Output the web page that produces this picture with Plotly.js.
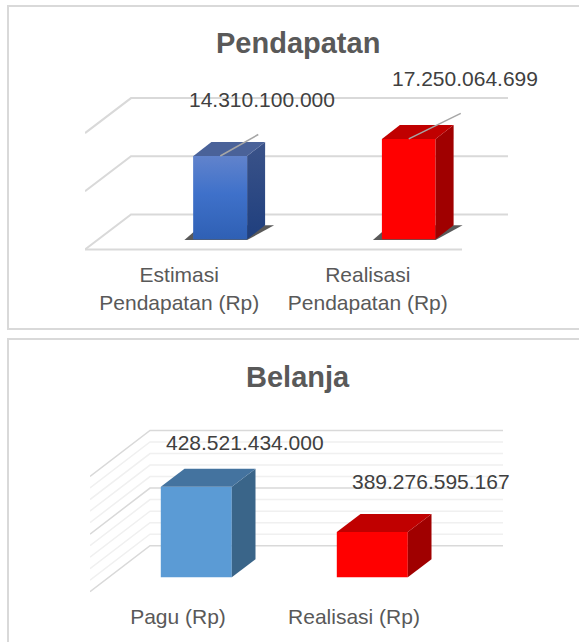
<!DOCTYPE html>
<html>
<head>
<meta charset="utf-8">
<script src="https://cdn.plot.ly/plotly-3.0.1.min.js"></script>
<style>html,body{margin:0;padding:0;background:#fff}#chart{width:579px;height:642px}</style>
</head>
<body>
<div id="chart"></div>
<script>
// ---- data ----
const categoriesPendapatan = ['Estimasi<br>Pendapatan (Rp)', 'Realisasi<br>Pendapatan (Rp)'];
const valuesPendapatan = [14310100000, 17250064699];
const labelsPendapatan = ['14.310.100.000', '17.250.064.699'];
const gridPendapatan = [0, 10000000000, 20000000000];

const categoriesBelanja = ['Pagu (Rp)', 'Realisasi (Rp)'];
const valuesBelanja = [428521434000, 389276595167];
const labelsBelanja = ['428.521.434.000', '389.276.595.167'];
const gridMajorBelanja = [350e9, 400e9, 450e9];
const gridMinorBelanja = [360e9, 370e9, 380e9, 390e9, 410e9, 420e9, 430e9, 440e9];

// ---- styles ----
const W = 579, H = 642;
const RED = {front: '#ff0000', side: '#a00000', top: '#c00000'};
const panels = [
  {
    suffix: '', title: 'Pendapatan', titleY: 43,
    categories: categoriesPendapatan, values: valuesPendapatan, labels: labelsPendapatan,
    gridMajor: gridPendapatan, gridMinor: [],
    base: 0, pxPerUnit: 5.82e-9, basePx: 239.3,
    leftPx: 85, rightPx: 508, bottomPx: 252, topPx: 60, catPx: 188.5,
    barShiftPx: 41, barWidthPx: 53.7, depthX: 18, depthY: 14,
    backX: 46, backY: 24.8, frontY: -10.2,
    labelShift: [[41.6, 57], [55.8, 60]],
    leader: [[38, 21.5], [52, 25.5]],
    floorLine: true, shadow: true, ticklen: 4,
    colors: [
      {front: '#3d6fc7', side: '#2a4a86', top: '#4a6299',
       frontGrad: [[0, '#2f60b4'], [0.55, '#3f71ca'], [1, '#6183cc']],
       sideGrad: [[0, '#1f3f7e'], [1, '#3b5389']]},
      RED]
  },
  {
    suffix: '2', title: 'Belanja', titleY: 377,
    categories: categoriesBelanja, values: valuesBelanja, labels: labelsBelanja,
    gridMajor: gridMajorBelanja, gridMinor: gridMinorBelanja,
    base: 350e9, pxPerUnit: 1.152e-9, basePx: 577.3,
    leftPx: 90, rightPx: 503, bottomPx: 594, topPx: 420, catPx: 176,
    barShiftPx: 18.3, barWidthPx: 71, depthX: 23.7, depthY: 18,
    backX: 60, backY: 31.6, frontY: -14.4,
    labelShift: [[49, 44.6], [59, 51]],
    leader: null,
    floorLine: false, shadow: false, ticklen: 4,
    colors: [{front: '#5b9bd5', side: '#3a6589', top: '#44739f'}, RED]
  }
];

const traces = [], annotations = [], shapes = [], layout = {};

function panelFrame(y0, y1) {
  shapes.push({type: 'rect', xref: 'paper', yref: 'paper', layer: 'below',
    x0: 8 / W, x1: 1.02, y0: 1 - y0 / H, y1: 1 - y1 / H,
    line: {color: '#d9d9d9', width: 2}, fillcolor: 'rgba(0,0,0,0)'});
}
panelFrame(6, 329);
panelFrame(339, 660);

panels.forEach(p => {
  const xa = 'x' + p.suffix, ya = 'y' + p.suffix;
  const xName = 'xaxis' + p.suffix, yName = 'yaxis' + p.suffix;
  const dX = px => px / p.catPx;            // pixel length -> x units
  const dY = px => px / p.pxPerUnit;        // pixel length -> y units
  const valAt = px => p.base + dY(p.basePx - px);
  const xMin = -0.5, xMax = -0.5 + dX(p.rightPx - p.leftPx);

  layout[xName] = {
    domain: [p.leftPx / W, p.rightPx / W], range: [xMin, xMax], type: 'linear',
    anchor: ya, tickmode: 'array', tickvals: p.categories.map((_, i) => i), ticktext: p.categories,
    tickangle: 0, showgrid: false, zeroline: false, showline: false,
    ticks: 'outside', ticklen: p.ticklen, tickcolor: 'rgba(0,0,0,0)',
    tickfont: {family: 'Liberation Sans, Arial, sans-serif', size: 21, color: '#595959'}
  };
  layout[yName] = {
    domain: [1 - p.bottomPx / H, 1 - p.topPx / H], range: [valAt(p.bottomPx), valAt(p.topPx)],
    anchor: xa, visible: false, showgrid: false, zeroline: false
  };

  const pathOf = (xs, ys, close) =>
    xs.map((x, k) => (k ? 'L' : 'M') + x + ',' + y4(ys[k])).join(' ') + (close ? ' Z' : '');
  const y4 = y => y;
  const behind = (xs, ys, lineStyle, fill) => shapes.push({
    type: 'path', xref: xa, yref: ya, layer: 'below', path: pathOf(xs, ys, !!fill),
    line: lineStyle, fillcolor: fill || 'rgba(0,0,0,0)'
  });
  const line = (x, y, color, width) => traces.push({
    type: 'scatter', mode: 'lines', x, y, xaxis: xa, yaxis: ya, cliponaxis: false,
    line: {color, width}, hoverinfo: 'skip', showlegend: false
  });
  const poly = (x, y, color, grad) => {
    const t = {type: 'scatter', mode: 'lines', x, y, xaxis: xa, yaxis: ya, cliponaxis: false,
      fill: 'toself', fillcolor: color, line: {width: 0, color: 'rgba(0,0,0,0)'},
      hoverinfo: 'skip', showlegend: false};
    if (grad) t.fillgradient = grad;
    traces.push(t);
  };

  // gridlines sit behind the bars: floor edge -> back wall
  const gridLine = (v, color, width) => behind(
    [xMin, xMin + dX(p.backX), xMax],
    [v + dY(p.frontY), v + dY(p.backY), v + dY(p.backY)], {color, width});
  p.gridMinor.forEach(v => gridLine(v, '#f0f0f0', 1.5));
  p.gridMajor.forEach(v => gridLine(v, '#d9d9d9', p.floorLine ? 2 : 1.5));
  if (p.floorLine) {
    behind([xMin, 1.5], [p.base + dY(p.frontY), p.base + dY(p.frontY)], {color: '#d9d9d9', width: 2});
  }

  const shift = dX(p.barShiftPx), half = dX(p.barWidthPx) / 2;
  const ddx = dX(p.depthX), ddy = dY(p.depthY);

  p.values.forEach((v, i) => {
    const c = i + shift, l = c - half, r = c + half, col = p.colors[i];

    if (p.shadow) {
      behind([l - dX(9), r, r + ddx + dX(9), l + dX(8)],
             [p.base - dY(0.8), p.base - dY(0.8), p.base + ddy, p.base + ddy],
             {width: 0, color: 'rgba(0,0,0,0)'}, 'rgba(60,60,60,0.85)');
    }

    // side and top faces come from the same value as the bar
    poly([r, r + ddx, r + ddx, r], [p.base, p.base + ddy, v + ddy, v], col.side,
      col.sideGrad ? {type: 'vertical', colorscale: col.sideGrad} : null);
    poly([l, r, r + ddx, l + ddx], [v, v, v + ddy, v + ddy], col.top);

    // front face
    traces.push({
      type: 'bar', x: [c], y: [v - p.base], base: [p.base], width: [dX(p.barWidthPx)],
      xaxis: xa, yaxis: ya, cliponaxis: false, showlegend: false, hoverinfo: 'skip',
      marker: {color: col.front, line: {width: 0}}
    });
    if (col.frontGrad) {
      poly([l, r, r, l], [p.base, p.base, v, v], col.front,
        {type: 'vertical', colorscale: col.frontGrad});
    }

    if (p.leader) {
      line([c, c + dX(p.leader[i][0])], [v, v + dY(p.leader[i][1])], '#a6a6a6', 1.5);
    }

    annotations.push({
      xref: xa, yref: ya, x: c, y: v, text: p.labels[i], showarrow: false,
      xanchor: 'center', yanchor: 'middle',
      xshift: p.labelShift[i][0], yshift: p.labelShift[i][1],
      font: {family: 'Liberation Sans, Arial, sans-serif', size: 21, color: '#404040'}
    });
  });

  annotations.push({
    xref: 'paper', yref: 'paper', x: 297.5 / W, y: 1 - p.titleY / H, text: '<b>' + p.title + '</b>',
    showarrow: false, xanchor: 'center', yanchor: 'middle',
    font: {family: 'Liberation Sans, Arial, sans-serif', size: 29, color: '#595959'}
  });
});

Object.assign(layout, {
  width: W, height: H, autosize: false,
  margin: {l: 0, r: 0, t: 0, b: 0, pad: 0},
  paper_bgcolor: '#ffffff', plot_bgcolor: 'rgba(0,0,0,0)',
  barmode: 'overlay', showlegend: false, shapes, annotations
});

Plotly.newPlot('chart', traces, layout, {displayModeBar: false, staticPlot: true});
</script>
</body>
</html>
